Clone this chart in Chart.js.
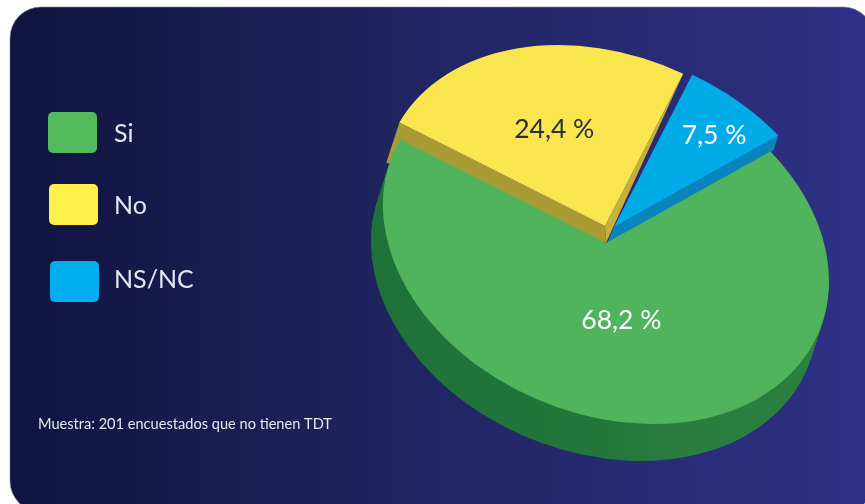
<!DOCTYPE html>
<html>
<head>
<meta charset="utf-8">
<style>html,body{margin:0;padding:0;background:#fff}canvas{display:block}</style>
<script src="https://cdn.jsdelivr.net/npm/chart.js@4"></script>
</head>
<body>
<canvas id="c" width="865" height="504"></canvas>
<script>
const categories = ['Si', 'No', 'NS/NC'];
const values = [68.2, 24.4, 7.5];
const sliceColors = ['#4fb45b', '#f9e64f', '#00abe8'];
const legendColors = ['#52bb5c', '#fff04a', '#00aeef'];
const note = 'Muestra: 201 encuestados que no tienen TDT';

const FONT = 'Lato, "Open Sans", sans-serif';
const sliceShift = [[0, 0], [-1, -17], [8, -16]];
const labelFraction = [0.43, 0.54, 0.77];
const labelShift = [[-1, 0], [-3, -1], [4, 5]];
const labelColors = ['#ffffff', '#2b2b3a', '#ffffff'];
const legendBoxes = [[48, 112], [49, 184], [50, 261]];
const legendTextY = [134, 206, 280];
const centre = [606, 243];
const tilt = [223, 38.1, 0, 176.9];

function applyTilt(ctx, arc, shift) {
  const r = arc.outerRadius;
  ctx.translate(centre[0] + shift[0], centre[1] + shift[1]);
  ctx.transform(tilt[0] / r, tilt[1] / r, tilt[2] / r, tilt[3] / r, 0, 0);
  ctx.translate(-arc.x, -arc.y);
}
function polar(arc, shift, ang, frac) {
  const dx = Math.cos(ang) * frac, dy = Math.sin(ang) * frac;
  return [centre[0] + shift[0] + tilt[0] * dx + tilt[2] * dy,
          centre[1] + shift[1] + tilt[1] * dx + tilt[3] * dy];
}
function poly(ctx, pts, color) {
  ctx.beginPath();
  pts.forEach((p, i) => i ? ctx.lineTo(p[0], p[1]) : ctx.moveTo(p[0], p[1]));
  ctx.closePath();
  ctx.fillStyle = color;
  ctx.fill();
}

const panelPlugin = {
  id: 'panel',
  beforeDraw(chart) {
    const ctx = chart.ctx;
    ctx.save();
    const g = ctx.createLinearGradient(10, 0, 865, 0);
    g.addColorStop(0, '#10143f');
    g.addColorStop(0.45, '#20245f');
    g.addColorStop(1, '#2e3186');
    ctx.beginPath();
    ctx.roundRect(10, 7, 864, 505, 31);
    ctx.fillStyle = g;
    ctx.fill();
    ctx.strokeStyle = 'rgba(120,130,160,0.55)';
    ctx.lineWidth = 1;
    ctx.stroke();
    ctx.restore();

    ctx.save();
    categories.forEach((name, i) => {
      const [x, y] = legendBoxes[i];
      ctx.beginPath();
      ctx.roundRect(x, y, 49, 41, 5);
      ctx.fillStyle = legendColors[i];
      ctx.fill();
      ctx.fillStyle = '#e6e8f0';
      ctx.font = '25px ' + FONT;
      ctx.textAlign = 'left';
      ctx.textBaseline = 'middle';
      ctx.fillText(name, 114, legendTextY[i]);
    });
    ctx.fillStyle = '#e6e8f0';
    ctx.font = '14.6px ' + FONT;
    ctx.textAlign = 'left';
    ctx.textBaseline = 'middle';
    ctx.fillText(note, 38, 424);
    ctx.restore();
  }
};

const piePlugin = {
  id: 'pie3d',
  beforeDatasetsDraw(chart) {
    const ctx = chart.ctx;
    const arcs = chart.getDatasetMeta(0).data;
    const base = arcs[0];

    // green wall
    const depth = 36, shiftX = -12, shiftY = 37;
    const g = ctx.createLinearGradient(370, 0, 815, 0);
    g.addColorStop(0, '#1e7238');
    g.addColorStop(0.5, '#23763a');
    g.addColorStop(0.7, '#2a7d3f');
    g.addColorStop(1, '#2a8040');
    for (let t = 1; t <= depth; t++) {
      ctx.save();
      applyTilt(ctx, base, [shiftX * t / depth, shiftY * t / depth]);
      ctx.beginPath();
      ctx.moveTo(base.x, base.y);
      ctx.arc(base.x, base.y, base.outerRadius, base.startAngle, base.endAngle);
      ctx.closePath();
      ctx.setTransform(1, 0, 0, 1, 0, 0);
      ctx.fillStyle = g;
      ctx.fill();
      ctx.restore();
    }

    // yellow cut walls
    const y = arcs[1];
    const yApex = polar(y, sliceShift[1], 0, 0);
    const yLeft = polar(y, sliceShift[1], y.startAngle, 1);
    const yRight = polar(y, sliceShift[1], y.endAngle, 1);
    poly(ctx, [yApex, yLeft, [yLeft[0] - 13, yLeft[1] + 40], [yApex[0] + 1, yApex[1] + 17]], '#a99b33');
    poly(ctx, [yApex, yRight, [yApex[0] + 1, yApex[1] + 17]], '#c4b13b');

    // blue cut wall
    const b = arcs[2];
    const bApex = polar(b, sliceShift[2], 0, 0);
    const bRight = polar(b, sliceShift[2], b.endAngle, 1);
    poly(ctx, [bApex, bRight, [bRight[0] - 5, bRight[1] + 15], [bApex[0] - 7, bApex[1] + 16]], '#0a84bd');
  },
  beforeDatasetDraw(chart) {
    const ctx = chart.ctx;
    chart.getDatasetMeta(0).data.forEach((arc, i) => {
      ctx.save();
      applyTilt(ctx, arc, sliceShift[i]);
      arc.draw(ctx);
      ctx.restore();
    });
    return false;
  },
  afterDatasetsDraw(chart) {
    const ctx = chart.ctx;
    const arcs = chart.getDatasetMeta(0).data;
    ctx.save();
    ctx.font = '26.5px ' + FONT;
    ctx.textAlign = 'center';
    ctx.textBaseline = 'middle';
    arcs.forEach((arc, i) => {
      const mid = (arc.startAngle + arc.endAngle) / 2;
      const p = polar(arc, sliceShift[i], mid, labelFraction[i]);
      ctx.fillStyle = labelColors[i];
      ctx.fillText(values[i].toFixed(1).replace('.', ',') + ' %', p[0] + labelShift[i][0], p[1] + labelShift[i][1]);
    });
    ctx.restore();
  }
};

new Chart(document.getElementById('c'), {
  type: 'pie',
  data: {
    labels: categories,
    datasets: [{
      data: values,
      backgroundColor: sliceColors,
      borderWidth: 0,
      hoverOffset: 0
    }]
  },
  options: {
    responsive: false,
    animation: false,
    rotation: 47.5,
    layout: { padding: 0 },
    plugins: { legend: { display: false }, tooltip: { enabled: false } },
    events: []
  },
  plugins: [panelPlugin, piePlugin]
});
</script>
</body>
</html>
